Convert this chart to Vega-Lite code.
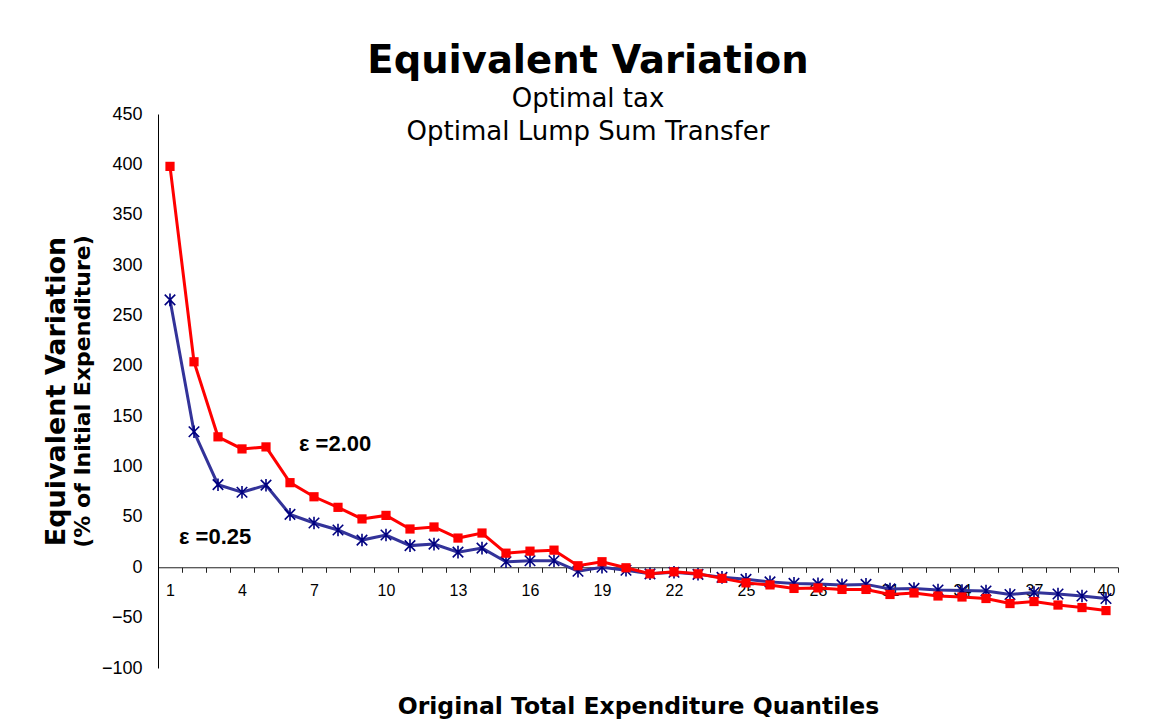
{
  "$schema": "https://vega.github.io/schema/vega-lite/v6.json",
  "width": 960,
  "height": 554,
  "autosize": {"type": "none"},
  "padding": {"left": 158, "top": 114, "right": 50, "bottom": 56},
  "background": "white",
  "title": {
    "text": "Equivalent Variation",
    "subtitle": ["Optimal tax", "Optimal Lump Sum Transfer"],
    "font": "DejaVu Sans",
    "fontSize": 38.5,
    "fontWeight": "bold",
    "color": "black",
    "subtitleFont": "DejaVu Sans",
    "subtitleFontSize": 26,
    "subtitleColor": "black",
    "subtitleLineHeight": 33,
    "subtitlePadding": 5,
    "anchor": "middle",
    "frame": "group",
    "dx": -50,
    "offset": -41
  },
  "data": {
    "values": [
      {"q": 1, "e2": 398, "e025": 265.5},
      {"q": 2, "e2": 204, "e025": 134.5},
      {"q": 3, "e2": 129.5, "e025": 82},
      {"q": 4, "e2": 117.5, "e025": 74.5},
      {"q": 5, "e2": 119.5, "e025": 81.5},
      {"q": 6, "e2": 84, "e025": 52.5},
      {"q": 7, "e2": 70, "e025": 44},
      {"q": 8, "e2": 59.5, "e025": 37},
      {"q": 9, "e2": 48, "e025": 27},
      {"q": 10, "e2": 51.5, "e025": 32},
      {"q": 11, "e2": 38, "e025": 21.5},
      {"q": 12, "e2": 40, "e025": 23},
      {"q": 13, "e2": 29, "e025": 15},
      {"q": 14, "e2": 34, "e025": 19},
      {"q": 15, "e2": 14, "e025": 5.5},
      {"q": 16, "e2": 16, "e025": 6.5},
      {"q": 17, "e2": 17, "e025": 6.5},
      {"q": 18, "e2": 1.5, "e025": -4},
      {"q": 19, "e2": 5.5, "e025": 0},
      {"q": 20, "e2": -0.5, "e025": -3},
      {"q": 21, "e2": -6.5, "e025": -6.5},
      {"q": 22, "e2": -4.5, "e025": -5},
      {"q": 23, "e2": -6.5, "e025": -7},
      {"q": 24, "e2": -11, "e025": -10},
      {"q": 25, "e2": -15.5, "e025": -12},
      {"q": 26, "e2": -17.5, "e025": -14.5},
      {"q": 27, "e2": -21, "e025": -16},
      {"q": 28, "e2": -20.5, "e025": -16.5},
      {"q": 29, "e2": -22, "e025": -17.5},
      {"q": 30, "e2": -22, "e025": -17},
      {"q": 31, "e2": -27, "e025": -21.5},
      {"q": 32, "e2": -25.5, "e025": -21},
      {"q": 33, "e2": -28.5, "e025": -22.5},
      {"q": 34, "e2": -29.5, "e025": -23},
      {"q": 35, "e2": -31, "e025": -23.5},
      {"q": 36, "e2": -36, "e025": -27},
      {"q": 37, "e2": -34, "e025": -25},
      {"q": 38, "e2": -37.5, "e025": -26.5},
      {"q": 39, "e2": -40, "e025": -28.5},
      {"q": 40, "e2": -43, "e025": -31}
    ]
  },
  "encoding": {
    "x": {
      "field": "q",
      "type": "ordinal",
      "scale": {"type": "band", "paddingInner": 0, "paddingOuter": 0},
      "axis": {
        "title": "Original Total Expenditure Quantiles",
        "titleFont": "DejaVu Sans",
        "titleFontSize": 23.5,
        "titleFontWeight": "bold",
        "titleColor": "black",
        "titleY": 146,
        "titleBaseline": "alphabetic",
        "offset": -100.73,
        "labelAngle": 0,
        "labelFont": "Liberation Sans",
        "labelFontSize": 16,
        "labelColor": "black",
        "labelExpr": "(datum.value - 1) % 3 == 0 ? datum.label : ''",
        "labelPadding": 10,
        "labelOverlap": false,
        "tickBand": "extent",
        "tickSize": 5,
        "tickColor": "#222222",
        "domainColor": "#222222",
        "grid": false
      }
    }
  },
  "layer": [
    {
      "mark": {"type": "line", "color": "#333399", "strokeWidth": 3},
      "encoding": {
        "y": {
          "field": "e025",
          "type": "quantitative",
          "scale": {"domain": [-100, 450], "nice": false, "zero": false},
          "axis": {
            "title": "Equivalent Variation",
            "titleFont": "DejaVu Sans",
            "titleFontSize": 27,
            "titleFontWeight": "bold",
            "titleColor": "black",
            "titleX": -102,
            "titleY": 277,
            "titleAngle": -90,
            "titleAlign": "center",
            "titleBaseline": "middle",
            "values": [-100, -50, 0, 50, 100, 150, 200, 250, 300, 350, 400, 450],
            "ticks": false,
            "labelFont": "Liberation Sans",
            "labelFontSize": 18,
            "labelColor": "black",
            "labelPadding": 16,
            "domainColor": "black",
            "grid": false
          }
        }
      }
    },
    {
      "mark": {"type": "point", "shape": "M-1,-1L1,1M-1,1L1,-1M0,-1.2L0,1.2", "filled": false, "stroke": "#000080", "strokeWidth": 1.6, "size": 110, "opacity": 1},
      "encoding": {
        "y": {"field": "e025", "type": "quantitative", "axis": null}
      }
    },
    {
      "mark": {"type": "line", "color": "#FF0000", "strokeWidth": 3},
      "encoding": {
        "y": {
          "field": "e2",
          "type": "quantitative",
          "axis": {
            "title": "(% of Initial Expenditure)",
            "orient": "left",
            "labels": false,
            "ticks": false,
            "domain": false,
            "grid": false,
            "titleFont": "DejaVu Sans",
            "titleFontSize": 22,
            "titleFontWeight": "bold",
            "titleColor": "black",
            "titleX": -76,
            "titleY": 277,
            "titleAngle": -90,
            "titleAlign": "center",
            "titleBaseline": "middle"
          }
        }
      }
    },
    {
      "mark": {"type": "point", "shape": "square", "filled": true, "color": "#FF0000", "size": 85, "opacity": 1},
      "encoding": {
        "y": {"field": "e2", "type": "quantitative", "axis": null}
      }
    },
    {
      "data": {
        "values": [
          {"q": 6, "ev": 115.5, "label": "ε =2.00"},
          {"q": 1, "ev": 23, "label": "ε =0.25"}
        ]
      },
      "mark": {"type": "text", "align": "left", "baseline": "alphabetic", "dx": 9, "font": "Liberation Sans", "fontWeight": "bold", "fontSize": 22, "color": "black"},
      "encoding": {
        "y": {"field": "ev", "type": "quantitative", "axis": null},
        "text": {"field": "label"}
      }
    }
  ],
  "resolve": {"axis": {"y": "independent"}},
  "config": {
    "view": {"stroke": null}
  }
}
